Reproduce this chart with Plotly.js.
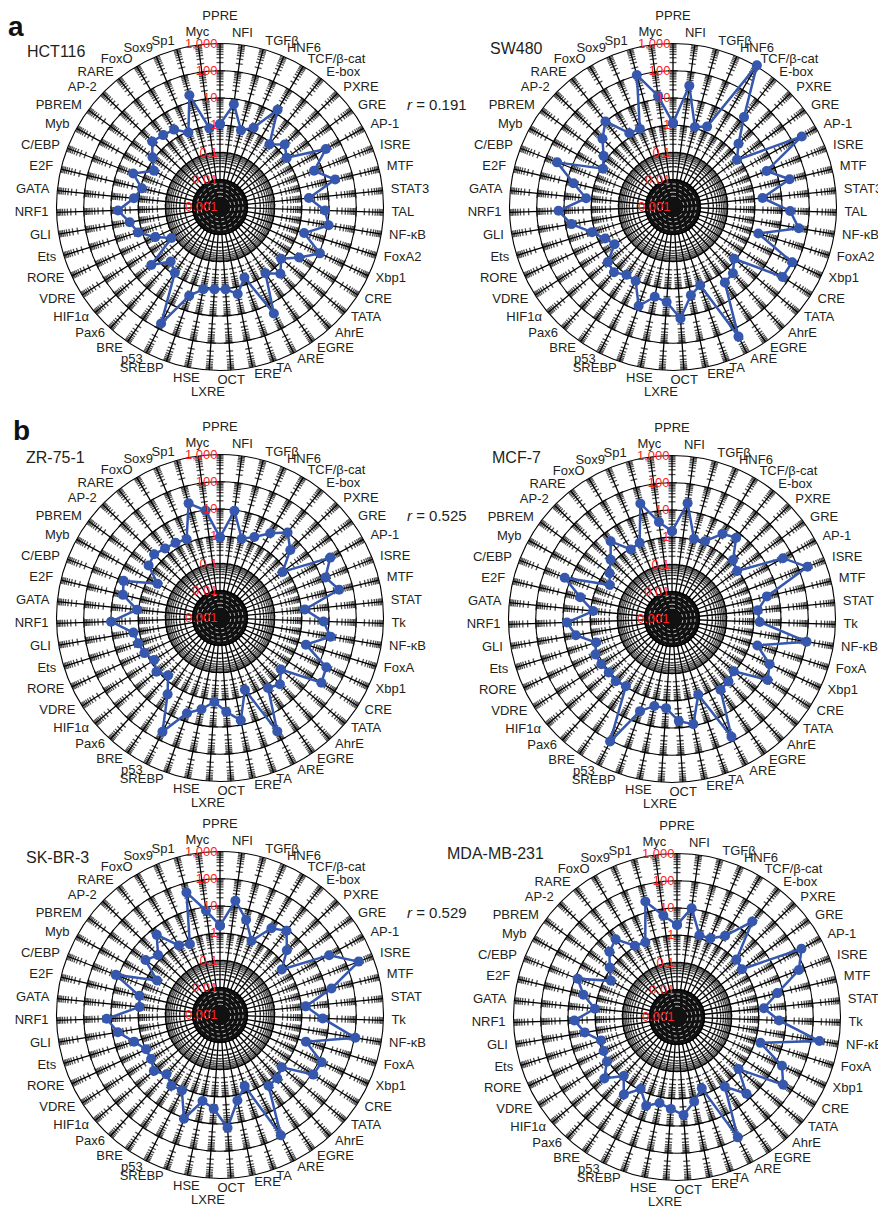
<!DOCTYPE html>
<html>
<head>
<meta charset="utf-8">
<script src="https://cdn.plot.ly/plotly-3.0.1.min.js"></script>
<style>html,body{margin:0;padding:0;background:#fff;}#chart{width:878px;height:1208px;}</style>
</head>
<body>
<div id="chart"></div>
<script>
// ---------- data ----------
const categoriesA = ['PPRE','NFI','TGFβ','HNF6','TCF/β-cat','E-box','PXRE','GRE','AP-1','ISRE','MTF','STAT3','TAL','NF-κB','FoxA2','Xbp1','CRE','TATA','AhrE','EGRE','ARE','TA','ERE','OCT','LXRE','HSE','SREBP','p53','BRE','Pax6','HIF1α','VDRE','RORE','Ets','GLI','NRF1','GATA','E2F','C/EBP','Myb','PBREM','AP-2','RARE','FoxO','Sox9','Sp1','Myc'];
const categoriesB = ['PPRE','NFI','TGFβ','HNF6','TCF/β-cat','E-box','PXRE','GRE','AP-1','ISRE','MTF','STAT','Tk','NF-κB','FoxA','Xbp1','CRE','TATA','AhrE','EGRE','ARE','TA','ERE','OCT','LXRE','HSE','SREBP','p53','BRE','Pax6','HIF1α','VDRE','RORE','Ets','GLI','NRF1','GATA','E2F','C/EBP','Myb','PBREM','AP-2','RARE','FoxO','Sox9','Sp1','Myc'];

const HCT116 = [1.1, 6.4, 0.83, 1.45, 14, 0.85, 2.0, 1.1, 27, 5.0, 22, 1.9, 7.2, 11, 1.7, 11, 2.8, 0.87, 2.0, 0.89, 24, 0.55, 1.8, 1.07, 1.07, 1.2, 2.8, 62, 0.85, 0.5, 2.0, 0.13, 0.42, 1.4, 2.3, 5.6, 1.5, 0.89, 2.6, 0.58, 1.2, 2.9, 2.3, 2.0, 0.93, 18, 0.83];
const SW480 = [1.2, 31, 1.1, 1.6, 1100, 16, 2.2, 0.83, 245, 4.8, 25, 2.0, 20, 48, 1.9, 66, 59, 0.87, 1.9, 2.3, 213, 1.1, 2.0, 12.6, 3.1, 2.3, 7.0, 1.1, 1.05, 1.7, 1.35, 0.35, 0.56, 1.3, 6.0, 16, 1.6, 5.7, 36, 0.85, 1.45, 4.0, 10, 1.4, 1.3, 106, 13];
const ZR751 = [0.91, 9.3, 1.04, 1.7, 4.1, 10, 3.9, 0.71, 41, 14, 31, 1.35, 6.3, 13, 2.0, 20, 26, 0.85, 1.9, 1.3, 46, 0.61, 6.8, 2.8, 1.23, 2.6, 5.0, 48, 2.5, 0.69, 1.13, 0.74, 1.15, 1.38, 1.67, 10, 1.15, 4.6, 6.2, 0.41, 1.8, 2.3, 1.8, 1.6, 1.38, 23, 9.5];
const MCF7 = [1.66, 19.5, 1.13, 1.26, 4.3, 6.3, 1.3, 0.93, 44, 213, 3.8, 1.45, 1.66, 102, 1.9, 8.9, 14.5, 0.93, 1.23, 1.4, 69, 0.87, 8.7, 5.7, 1.9, 1.8, 3.8, 109, 0.98, 1.2, 1.1, 1.2, 1.26, 0.83, 3.8, 7.2, 0.81, 2.9, 16.6, 0.40, 0.71, 1.35, 4.3, 0.93, 1.1, 25, 3.9];
const SKBR3 = [1.9, 17, 4.2, 0.91, 5.0, 8.7, 2.6, 0.65, 37, 282, 16, 1.45, 5.9, 109, 2.0, 13, 11.6, 0.93, 1.35, 1.4, 89, 0.58, 1.6, 14, 2.8, 1.66, 10.7, 1.26, 1.4, 0.85, 1.5, 1.0, 0.98, 2.0, 6.3, 14.5, 0.93, 1.1, 12.6, 0.43, 2.5, 1.45, 5.6, 0.93, 0.68, 46, 7.4];
const MDAMB231 = [2.4, 10.7, 1.3, 1.35, 2.9, 29, 1.07, 0.91, 162, 62, 6.1, 1.6, 5.6, 200, 1.6, 17.6, 42, 0.91, 6.3, 1.26, 89, 0.59, 1.45, 4.0, 2.4, 1.66, 2.8, 0.91, 2.8, 0.83, 3.1, 1.13, 0.93, 0.83, 2.7, 5.9, 1.07, 3.4, 8.1, 0.58, 1.17, 2.8, 4.3, 1.1, 0.95, 25, 5.7];

const radialTickVals = [0.001, 0.01, 0.1, 1, 10, 100, 1000];
const radialTickText = ['0.001', '0.01', '0.1', '1', '10', '100', '1,000'];

const panelNames = ['HCT116', 'SW480', 'ZR-75-1', 'MCF-7', 'SK-BR-3', 'MDA-MB-231'];
const correlations = ['r = 0.191', 'r = 0.525', 'r = 0.529'];

// ---------- layout config ----------
const W = 878, H = 1208, R = 163.5;   // R: radius of the 1,000 circle in px
const LOG_MIN = -3, LOG_OUT = 3, LOG_MAX = 3.95;  // radial range extends past 1,000 to hold labels
const DECADE_PX = R / (LOG_OUT - LOG_MIN);
const RT = DECADE_PX * (LOG_MAX - LOG_MIN);
const panels = [
  {name: panelNames[0], vals: HCT116, cats: categoriesA, cx: 220, cy: 207, tx: 25, ty: 51},
  {name: panelNames[1], vals: SW480, cats: categoriesA, cx: 673, cy: 207, tx: 488, ty: 49},
  {name: panelNames[2], vals: ZR751, cats: categoriesB, cx: 220, cy: 618, tx: 24, ty: 457},
  {name: panelNames[3], vals: MCF7, cats: categoriesB, cx: 672, cy: 619, tx: 490, ty: 457},
  {name: panelNames[4], vals: SKBR3, cats: categoriesB, cx: 220, cy: 1015, tx: 24, ty: 857},
  {name: panelNames[5], vals: MDAMB231, cats: categoriesB, cx: 677, cy: 1017, tx: 445, ty: 853}
];
const FONT = 'Liberation Sans, Arial, Helvetica, sans-serif';
const LABEL_SIZE = 13;
const BLUE = '#3557ad';
const LABEL_GAP = 8;                                   // px beyond the 1,000 circle
const LABEL_GAP_SPECIAL = {'PPRE': 20, 'LXRE': 16, 'OCT': 4, 'HSE': 5, 'Myc': 6, 'NFI': 5};

function labelPosition(deg) {
  if (deg > 350 || deg < 10) return 'top center';
  if (deg > 176 && deg < 192) return 'bottom center';
  return deg < 180 ? 'middle right' : 'middle left';
}

const traces = [];
const layout = {
  width: W, height: H,
  margin: {l: 0, r: 0, t: 0, b: 0},
  paper_bgcolor: '#fff',
  showlegend: false,
  font: {family: FONT, color: '#231f20'},
  annotations: []
};

const spokeTicks = [], spokeSizes = [];
for (let k = -2; k <= 2; k++) {
  for (let m = 1; m <= 9; m++) {
    spokeTicks.push(m * Math.pow(10, k));
    spokeSizes.push(m === 1 ? 7 : 5);
  }
}

panels.forEach((p, idx) => {
  const pid = idx === 0 ? 'polar' : 'polar' + (idx + 1);
  const N = p.cats.length;
  const innerVal = radialTickVals[0], outerVal = radialTickVals[radialTickVals.length - 1];
  layout[pid] = {
    domain: {x: [(p.cx - RT) / W, (p.cx + RT) / W], y: [1 - (p.cy + RT) / H, 1 - (p.cy - RT) / H]},
    bgcolor: 'rgba(0,0,0,0)',
    angularaxis: {
      type: 'category', categoryarray: p.cats, rotation: 90, direction: 'clockwise',
      showticklabels: false, ticks: '', showgrid: false, showline: false
    },
    radialaxis: {
      type: 'log', range: [LOG_MIN, LOG_MAX], tickmode: 'array', tickvals: radialTickVals, ticktext: radialTickText,
      tickfont: {family: FONT, size: 13, color: '#ff2020'},
      showline: false, ticks: '', showgrid: true, gridcolor: '#000', gridwidth: 1.1,
      angle: 90, side: 'counterclockwise', tickangle: 90, layer: 'above traces'
    }
  };
  // spokes from centre to the 1,000 circle
  const sr = [], st = [];
  p.cats.forEach(c => { sr.push(innerVal, outerVal, null); st.push(c, c, c); });
  traces.push({type: 'scatterpolar', subplot: pid, r: sr, theta: st, mode: 'lines',
    line: {color: '#000', width: 1.3}, connectgaps: false, hoverinfo: 'skip'});
  // central dark disk
  traces.push({type: 'scatterpolar', subplot: pid, r: [0.00101], theta: [p.cats[0]], mode: 'markers',
    marker: {size: 54, color: '#111'}, cliponaxis: false, hoverinfo: 'skip'});
  // faint dotted rings in the disk
  [0.0025, 0.0035, 0.005, 0.007].forEach(rv => {
    traces.push({type: 'scatterpolar', subplot: pid, r: p.cats.concat([p.cats[0]]).map(() => rv),
      theta: p.cats.concat([p.cats[0]]), mode: 'lines',
      line: {color: 'rgba(255,255,255,0.75)', width: 1, dash: 'dot'}, hoverinfo: 'skip'});
  });
  // tick marks along each spoke
  const tr = [], tt = [], ta = [], ts = [];
  p.cats.forEach((c, i) => {
    spokeTicks.forEach((v, j) => { tr.push(v); tt.push(c); ta.push(i * 360 / N); ts.push(spokeSizes[j]); });
  });
  traces.push({type: 'scatterpolar', subplot: pid, r: tr, theta: tt, mode: 'markers',
    marker: {symbol: 'line-ew', size: ts, angle: ta, color: '#000', line: {color: '#000', width: 1.3}},
    hoverinfo: 'skip', cliponaxis: false});
  // data
  traces.push({type: 'scatterpolar', subplot: pid, name: p.name,
    r: p.vals.concat([p.vals[0]]), theta: p.cats.concat([p.cats[0]]),
    mode: 'lines+markers', line: {color: BLUE, width: 2.5}, marker: {size: 10, color: BLUE},
    cliponaxis: false});
  // category labels outside the 1,000 circle
  const lr = p.cats.map(c => {
    const gap = (c in LABEL_GAP_SPECIAL) ? LABEL_GAP_SPECIAL[c] : LABEL_GAP;
    return outerVal * Math.pow(10, gap / DECADE_PX);
  });
  const lp = p.cats.map((c, i) => labelPosition(i * 360 / N));
  traces.push({type: 'scatterpolar', subplot: pid, r: lr, theta: p.cats, text: p.cats,
    mode: 'text', textposition: lp,
    textfont: {family: FONT, size: LABEL_SIZE, color: '#231f20'}, cliponaxis: false, hoverinfo: 'skip'});
  layout.annotations.push({xref: 'paper', yref: 'paper', x: p.tx / W, y: 1 - p.ty / H,
    xanchor: 'left', yanchor: 'middle', showarrow: false, text: p.name,
    font: {family: FONT, size: 16, color: '#231f20'}});
});

// correlations
[[405, 104], [405, 515], [405, 912]].forEach((pos, i) => {
  layout.annotations.push({xref: 'paper', yref: 'paper', x: pos[0] / W, y: 1 - pos[1] / H,
    xanchor: 'left', yanchor: 'middle', showarrow: false,
    text: '<i>r</i>' + correlations[i].slice(1), font: {family: FONT, size: 15, color: '#231f20'}});
});
// panel letters
layout.annotations.push({xref: 'paper', yref: 'paper', x: 6 / W, y: 1 - 26 / H, xanchor: 'left', yanchor: 'middle',
  showarrow: false, text: '<b>a</b>', font: {family: FONT, size: 28, color: '#111'}});
layout.annotations.push({xref: 'paper', yref: 'paper', x: 11 / W, y: 1 - 430 / H, xanchor: 'left', yanchor: 'middle',
  showarrow: false, text: '<b>b</b>', font: {family: FONT, size: 28, color: '#111'}});

Plotly.newPlot('chart', traces, layout, {staticPlot: true, displayModeBar: false});
</script>
</body>
</html>
